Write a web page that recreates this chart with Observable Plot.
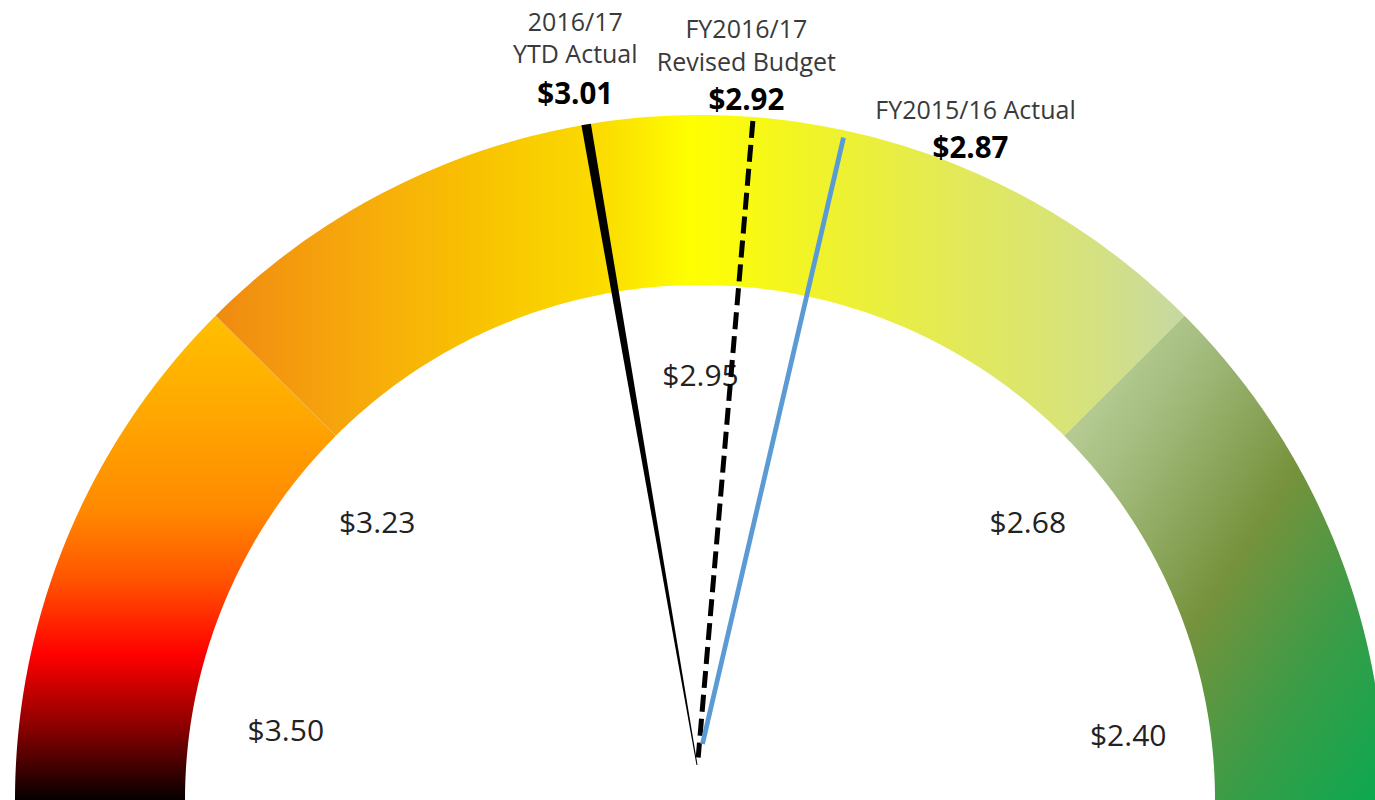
<!DOCTYPE html>
<html>
<head>
<meta charset="utf-8">
<script src="https://cdn.jsdelivr.net/npm/d3@7"></script>
<script src="https://cdn.jsdelivr.net/npm/@observablehq/plot@0.6"></script>
<style>
html, body { margin: 0; padding: 0; background: #fff; overflow: hidden; }
</style>
</head>
<body>
<div id="chart"></div>
<script>
// ---------------- data ----------------
const scaleMin = 2.40;
const scaleMax = 3.50;
const tickValues = [3.50, 3.225, 2.95, 2.675, 2.40];
const tickLabels = ["$3.50", "$3.23", "$2.95", "$2.68", "$2.40"];
const bandFrom = [3.50, 3.225, 2.675];
const bandTo = [3.225, 2.675, 2.40];
const needleTitles = ["2016/17\nYTD Actual", "FY2016/17\nRevised Budget", "FY2015/16 Actual"];
const needleValues = [3.01, 2.92, 2.87];
const needleValueLabels = ["$3.01", "$2.92", "$2.87"];

// ---------------- geometry / style ----------------
const W = 1375, H = 800;
const PX = 685;            // pixels per unit radius
const CX = 700, CY = 800;  // gauge centre in pixels
const R_OUT = 1, R_IN = 515 / 685;
const PIVOT = [-3 / PX, 35 / PX]; // needle pivot relative to gauge centre
const angle = d3.scaleLinear([scaleMin, scaleMax], [0, Math.PI]);
const polar = (v, r) => [r * Math.cos(angle(v)), r * Math.sin(angle(v))];

const bandGradients = [
  {id: "gHigh", x1: 0, y1: 0, x2: 0, y2: 1,
   stops: [[0, "#FFC000"], [0.2, "#FFA800"], [0.4, "#FF8A00"], [0.55, "#FF5200"], [0.7, "#FF0000"], [0.85, "#8A0000"], [1, "#050000"]]},
  {id: "gMid", x1: 0, y1: 0, x2: 1, y2: 0,
   stops: [[0, "#F08A12"], [0.16, "#F7AC0A"], [0.3, "#F9C800"], [0.4, "#FBDC00"], [0.49, "#FFFF00"], [0.63, "#EFF22C"], [0.77, "#E2E95A"], [0.9, "#D6E27E"], [1, "#C6D8A2"]]},
  {id: "gLow", x1: 0, y1: 0, x2: 1, y2: 1,
   stops: [[0, "#C9DBA8"], [0.25, "#A3BC7E"], [0.52, "#76923C"], [0.75, "#3B9C47"], [1, "#0AA950"]]}
];

// band polygons
const bands = bandFrom.map((v0, b) => {
  const v1 = bandTo[b];
  return d3.range(0, 121).map(i => {
    const v = v0 + (v1 - v0) * i / 120;
    const [xi, yi] = polar(v, R_IN);
    const [xo, yo] = polar(v, R_OUT);
    return {xi, yi, xo, yo};
  });
});

// tick labels
const tickNudge = [[10, -60], [-23, 33], [0, 10], [27, 33], [3, -55]]; // px (dx, dy)
const tickData = tickValues.map((v, i) => {
  const [x, y] = polar(v, 0.62);
  return {x: x + tickNudge[i][0] / PX, y: y - tickNudge[i][1] / PX, label: tickLabels[i]};
});

// needles: ray from pivot in direction angle(v) to outer circle radius R
function ray(v, R) {
  const a = angle(v), dx = Math.cos(a), dy = Math.sin(a);
  const [px, py] = PIVOT;
  const pd = px * dx + py * dy;
  const t = -pd + Math.sqrt(pd * pd - (px * px + py * py - R * R));
  return {a, dx, dy, t};
}
const needleStyle = [
  {kind: "taper", s0: 0, R: 1.0, w0: 0.5, w1: 4.8},
  {kind: "dash", s0: 8 / PX, R: 0.995},
  {kind: "blue", s0: 22 / PX, R: 0.99}
];
const needleGeom = needleValues.map((v, i) => {
  const s = needleStyle[i];
  const {a, dx, dy, t} = ray(v, s.R);
  const [px, py] = PIVOT;
  return {
    kind: s.kind, a, dx, dy,
    x1: px + dx * t, y1: py + dy * t,          // tip
    x2: px + dx * s.s0, y2: py + dy * s.s0     // base
  };
});

const taperData = (() => {
  const g = needleGeom[0], s = needleStyle[0];
  const nx = -g.dy, ny = g.dx; // perpendicular
  return [[g.x2, g.y2, s.w0], [g.x1, g.y1, s.w1]].map(([cx, cy, w]) => {
    const hw = w / PX;
    return {x1: cx + nx * hw, y1: cy + ny * hw, x2: cx - nx * hw, y2: cy - ny * hw};
  });
})();

const titleNudge = [[-11.4, -61.7], [-6.5, -50], [132, -19]];
const valueNudge = [[-11.4, -20.7], [-6.5, -11], [127, 20]];
const labelData = needleGeom.map((g, i) => ({
  tx: g.x1 + titleNudge[i][0] / PX, ty: g.y1 - titleNudge[i][1] / PX,
  vx: g.x1 + valueNudge[i][0] / PX, vy: g.y1 - valueNudge[i][1] / PX,
  title: needleTitles[i], value: needleValueLabels[i]
}));

const chart = Plot.plot({
  width: W,
  height: H,
  margin: 0,
  x: {domain: [-CX / PX, (W - CX) / PX], axis: null},
  y: {domain: [0, CY / PX], axis: null},
  style: {fontFamily: "'Open Sans', sans-serif", background: "#fff"},
  marks: [
    ...bands.map((pts, b) => Plot.area(pts, {
      x1: "xi", y1: "yi", x2: "xo", y2: "yo",
      fill: `url(#${bandGradients[b].id})`
    })),
    Plot.text(tickData, {
      x: "x", y: "y", text: "label", fontSize: 30, fill: "#222",
      lineAnchor: "bottom", textAnchor: "middle"
    }),
    Plot.area(taperData, {x1: "x1", y1: "y1", x2: "x2", y2: "y2", fill: "#000"}),
    Plot.link(needleGeom.filter(d => d.kind === "dash"), {
      x1: "x1", y1: "y1", x2: "x2", y2: "y2",
      stroke: "#000", strokeWidth: 5, strokeDasharray: "17,7", strokeLinecap: "butt"
    }),
    Plot.link(needleGeom.filter(d => d.kind === "blue"), {
      x1: "x1", y1: "y1", x2: "x2", y2: "y2",
      stroke: "#5B9BD5", strokeWidth: 4.8, strokeLinecap: "butt"
    }),
    Plot.text(labelData, {
      x: "tx", y: "ty", text: "title", fontSize: 25, fill: "#3a3a3a",
      lineAnchor: "bottom", lineHeight: 1.3, textAnchor: "middle"
    }),
    Plot.text(labelData, {
      x: "vx", y: "vy", text: "value", fontSize: 29.5, fontWeight: "bold", fill: "#000",
      lineAnchor: "bottom", textAnchor: "middle"
    })
  ]
});

// gradient definitions
const defs = d3.select(chart).insert("defs", ":first-child");
for (const g of bandGradients) {
  const lg = defs.append("linearGradient").attr("id", g.id)
    .attr("x1", g.x1).attr("y1", g.y1).attr("x2", g.x2).attr("y2", g.y2);
  for (const [o, c] of g.stops) lg.append("stop").attr("offset", o).attr("stop-color", c);
}

document.getElementById("chart").appendChild(chart);
</script>
</body>
</html>
